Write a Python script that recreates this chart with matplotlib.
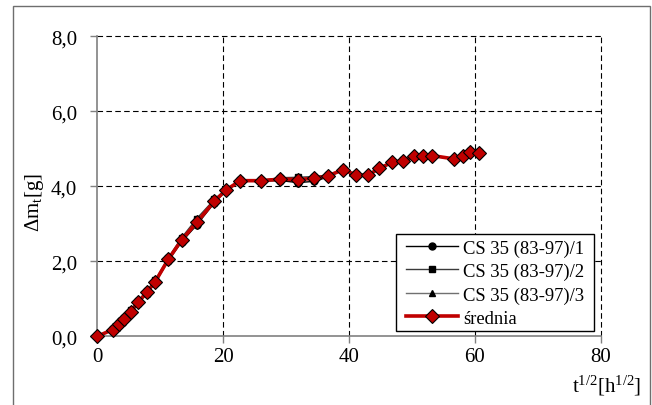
import matplotlib
matplotlib.use("Agg")
import matplotlib.pyplot as plt
from matplotlib.ticker import FuncFormatter
from matplotlib.patches import Rectangle
from matplotlib.lines import Line2D

plt.rcParams['font.family'] = ['Liberation Serif', 'DejaVu Serif']
plt.rcParams['mathtext.fontset'] = 'custom'
plt.rcParams['mathtext.rm'] = 'Liberation Serif'
plt.rcParams['mathtext.it'] = 'Liberation Serif'

# square root of time [h^1/2]
t_sqrt = [0.0, 2.43, 3.48, 4.28, 5.29, 6.5, 7.84, 9.2, 11.3, 13.4, 15.8, 18.6,
          20.45, 22.7, 26.0, 29.1, 31.9, 34.4, 36.7, 39.0, 41.1, 43.0, 44.8,
          46.9, 48.6, 50.3, 51.8, 53.2, 56.7, 58.1, 59.3, 60.6]

# mass increase [g] for the three specimens and their average
s1 = [0.00, 0.17, 0.31, 0.44, 0.63, 0.88, 1.14, 1.43, 2.02, 2.52, 2.97, 3.56,
      3.88, 4.14, 4.14, 4.15, 4.10, 4.13, 4.25, 4.43, 4.30, 4.28, 4.47, 4.63,
      4.67, 4.79, 4.79, 4.81, 4.72, 4.79, 4.91, 4.89]
s2 = [0.00, 0.19, 0.35, 0.48, 0.69, 0.95, 1.21, 1.50, 2.10, 2.63, 3.14, 3.65,
      3.92, 4.16, 4.16, 4.23, 4.24, 4.26, 4.30, 4.45, 4.32, 4.30, 4.49, 4.65,
      4.69, 4.81, 4.81, 4.83, 4.74, 4.81, 4.93, 4.91]
s3 = [0.00, 0.18, 0.33, 0.46, 0.66, 0.90, 1.16, 1.45, 2.06, 2.56, 3.01, 3.59,
      3.90, 4.15, 4.15, 4.19, 4.20, 4.24, 4.29, 4.44, 4.31, 4.29, 4.48, 4.64,
      4.68, 4.80, 4.80, 4.82, 4.73, 4.80, 4.92, 4.90]
srednia = [0.00, 0.18, 0.33, 0.46, 0.66, 0.91, 1.17, 1.46, 2.06, 2.57, 3.04, 3.60,
           3.90, 4.15, 4.15, 4.19, 4.18, 4.21, 4.28, 4.44, 4.31, 4.29, 4.48, 4.64,
           4.68, 4.80, 4.80, 4.82, 4.73, 4.80, 4.92, 4.90]

labels = ['CS 35 (83-97)/1', 'CS 35 (83-97)/2', 'CS 35 (83-97)/3', 'średnia']
x_ticks = [0, 20, 40, 60, 80]
y_ticks = [0, 2, 4, 6, 8]

FS_TICK = 15
FS_LEG = 13.4
W, H = 652, 406
fig = plt.figure(figsize=(W / 100, H / 100), dpi=100)
ax = fig.add_axes([97.4 / W, 1 - 337.3 / H, 503.2 / W, 300.0 / H])

# outer chart frame
fig.patches.append(Rectangle((13 / W, -0.05), 637 / W, 1.05 - 7 / H,
                             transform=fig.transFigure, fill=False,
                             edgecolor='#6e6e6e', linewidth=1.0))

styles = [
    dict(color='black', lw=1.0, marker='o', ms=5, mfc='black', mec='black'),
    dict(color='#3a3a3a', lw=1.0, marker='s', ms=5, mfc='black', mec='black'),
    dict(color='#707070', lw=1.0, marker='^', ms=5, mfc='black', mec='black'),
    dict(color='#c00000', lw=2.6, marker='D', ms=7.5, mfc='#c00000', mec='black', mew=0.8),
]
for ys, st, z in zip([s1, s2, s3, srednia], styles, [3, 3, 3, 4]):
    ax.plot(t_sqrt, ys, zorder=z, clip_on=False, **st)

ax.set_xlim(0, 80)
ax.set_ylim(0, 8)
ax.set_xticks(x_ticks)
ax.set_yticks(y_ticks)
ax.xaxis.set_major_formatter(FuncFormatter(lambda v, p: f"{v:.0f}"))
ax.yaxis.set_major_formatter(FuncFormatter(lambda v, p: f"{v:.1f}".replace('.', ',')))

for s in ['top', 'right']:
    ax.spines[s].set_visible(False)
for s in ['left', 'bottom']:
    ax.spines[s].set_color('#808080')
    ax.spines[s].set_linewidth(1.2)
    ax.spines[s].set_zorder(2)

ax.tick_params(axis='both', direction='out', length=5, width=1.0, color='#808080',
               labelsize=FS_TICK, labelcolor='black')
ax.tick_params(axis='y', pad=9.5)
ax.tick_params(axis='x', pad=3.0)

# dashed gridlines, including those at the axis limits
for xv in x_ticks[1:]:
    ax.axvline(xv, color='black', lw=0.8, ls=(0, (5, 3)), zorder=1, clip_on=False)
for yv in y_ticks[1:]:
    ax.axhline(yv, color='black', lw=0.8, ls=(0, (5, 3)), zorder=1, clip_on=False)

# legend box with its own frame
ax.add_patch(Rectangle((396 / W, 1 - 332 / H), 198 / W, 97 / H,
                       transform=fig.transFigure, facecolor='white',
                       edgecolor='black', linewidth=1.0, zorder=5, clip_on=False))
handles = [Line2D([], [], **st) for st in styles]
leg = ax.legend(handles, labels, loc='upper left',
                bbox_to_anchor=((403 - 97.4) / 503.2, (337.3 - 237.5) / 300.0),
                fontsize=FS_LEG, frameon=False, borderaxespad=0,
                handlelength=2.8, handletextpad=0.28, labelspacing=0.33,
                borderpad=0.15)
leg.set_zorder(6)

fig.text(35 / W, 1 - 202 / H, r'$\mathregular{\Delta m_t[g]}$', rotation=90,
         ha='center', va='center', fontsize=FS_TICK)
fig.text(641 / W, 1 - 386 / H, r'$\mathregular{t^{1/2}[h^{1/2}]}$',
         ha='right', va='center', fontsize=FS_TICK)

fig.savefig('out.png', dpi=100)
